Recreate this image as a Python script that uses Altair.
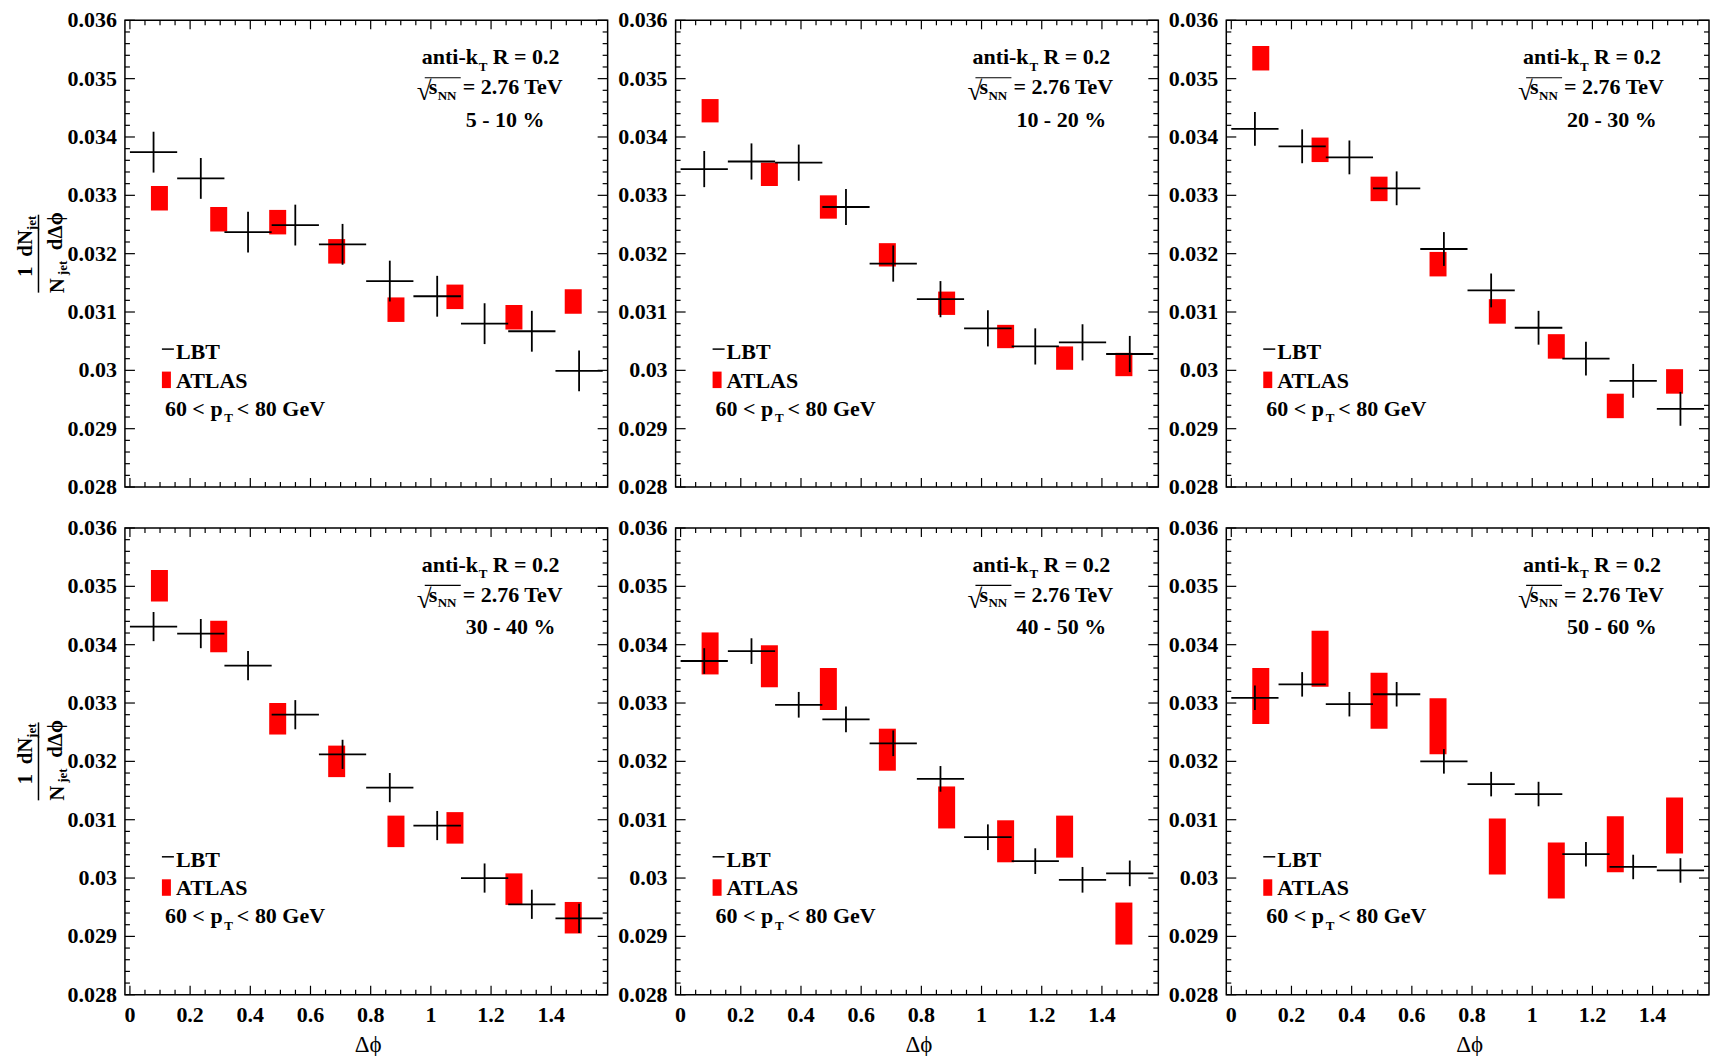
import altair as alt
import pandas as pd

# ---------------- data ----------------
centralities = ["5 - 10 %", "10 - 20 %", "20 - 30 %", "30 - 40 %", "40 - 50 %", "50 - 60 %"]

lbt_edges = [0.0, 0.157, 0.314, 0.471, 0.628, 0.785, 0.942, 1.100, 1.257, 1.414, 1.571]
lbt_vals = [
    [0.03374, 0.03329, 0.03237, 0.03249, 0.03216, 0.03153, 0.03127, 0.03080, 0.03067, 0.02999],
    [0.03345, 0.03358, 0.03356, 0.03280, 0.03183, 0.03122, 0.03072, 0.03041, 0.03048, 0.03028],
    [0.03414, 0.03384, 0.03365, 0.03312, 0.03208, 0.03137, 0.03073, 0.03020, 0.02982, 0.02934],
    [0.03431, 0.03419, 0.03364, 0.03280, 0.03212, 0.03155, 0.03090, 0.03000, 0.02955, 0.02931],
    [0.03372, 0.03389, 0.03297, 0.03272, 0.03231, 0.03170, 0.03070, 0.03029, 0.02997, 0.03008],
    [0.03309, 0.03332, 0.03298, 0.03315, 0.03200, 0.03161, 0.03144, 0.03041, 0.03019, 0.03013],
]
lbt_err = [0.00035, 0.00031, 0.00029, 0.00025, 0.00022, 0.00021]

atlas_x = [0.098, 0.295, 0.491, 0.687, 0.884, 1.080, 1.276, 1.473]
atlas_vals = [
    [0.03295, 0.03259, 0.03254, 0.03204, 0.03104, 0.03126, 0.03091, 0.03118],
    [0.03445, 0.03336, 0.03280, 0.03198, 0.03115, 0.03058, 0.03021, 0.03010],
    [0.03535, 0.03378, 0.03311, 0.03182, 0.03101, 0.03041, 0.02939, 0.02981],
    [0.03501, 0.03414, 0.03273, 0.03200, 0.03080, 0.03086, 0.02981, 0.02932],
    [0.03385, 0.03363, 0.03324, 0.03220, 0.03121, 0.03063, 0.03071, 0.02922],
    [0.03312, 0.03376, 0.03304, 0.03260, 0.03054, 0.03013, 0.03058, 0.03090],
]
atlas_err = [0.00021, 0.00020, 0.00021, 0.00027, 0.00036, 0.00048]

x_major = [0.0, 0.2, 0.4, 0.6, 0.8, 1.0, 1.2, 1.4]
x_labels = ["0", "0.2", "0.4", "0.6", "0.8", "1", "1.2", "1.4"]
x_minor = [0.05, 0.1, 0.15, 0.25, 0.3, 0.35, 0.45, 0.5, 0.55, 0.65, 0.7, 0.75,
           0.85, 0.9, 0.95, 1.05, 1.1, 1.15, 1.25, 1.3, 1.35, 1.45, 1.5, 1.55]
y_major = [0.028, 0.029, 0.030, 0.031, 0.032, 0.033, 0.034, 0.035, 0.036]
y_labels = ["0.028", "0.029", "0.03", "0.031", "0.032", "0.033", "0.034", "0.035", "0.036"]
y_minor = [round(0.028 + 0.0002 * i, 4) for i in range(41) if i % 5 != 0]

# ---------------- style / layout ----------------
SERIF = "Liberation Serif"
W, H = 483, 467
FS = 22        # annotation font size
FSUB = 13      # subscript size
TICK_FS = 22
XDOM = [0.0, 1.5708]
YDOM = [0.028, 0.036]
RED = "#ff0000"


def txt(text, x, y, size=FS, weight="bold", align="left", angle=0):
    return alt.Chart(pd.DataFrame({"t": [text]})).mark_text(
        font=SERIF, fontSize=size, fontWeight=weight, align=align,
        baseline="alphabetic", angle=angle, color="black"
    ).encode(x=alt.value(x), y=alt.value(y), text="t:N")


def hrule(x1, x2, y, sw=1.5, color="black"):
    return alt.Chart(pd.DataFrame({"a": [0]})).mark_rule(color=color, strokeWidth=sw).encode(
        x=alt.value(x1), x2=alt.value(x2), y=alt.value(y))


def vrule(x, y1, y2, sw=1.5):
    return alt.Chart(pd.DataFrame({"a": [0]})).mark_rule(color="black", strokeWidth=sw).encode(
        x=alt.value(x), y=alt.value(y1), y2=alt.value(y2))


def panel(i):
    xs = alt.Scale(domain=XDOM, nice=False, zero=False)
    ys = alt.Scale(domain=YDOM, nice=False, zero=False)
    bottom = i >= 3
    left = (i % 3) == 0

    lbt = pd.DataFrame({
        "lo": lbt_edges[:-1],
        "hi": lbt_edges[1:],
        "val": lbt_vals[i],
    })
    lbt["mid"] = (lbt["lo"] + lbt["hi"]) / 2
    lbt["elo"] = lbt["val"] - lbt_err[i]
    lbt["ehi"] = lbt["val"] + lbt_err[i]

    atl = pd.DataFrame({"x": atlas_x, "val": atlas_vals[i]})
    atl["lo"] = atl["val"] - atlas_err[i]
    atl["hi"] = atl["val"] + atlas_err[i]

    ymaj = pd.DataFrame({"v": y_major, "lab": y_labels})
    ymin = pd.DataFrame({"v": y_minor})
    xmaj = pd.DataFrame({"v": x_major, "lab": x_labels})
    xmin = pd.DataFrame({"v": x_minor})

    def ytick(df, x1, x2):
        return alt.Chart(df).mark_rule(color="black", strokeWidth=1.2).encode(
            y=alt.Y("v:Q", scale=ys, axis=None), x=alt.value(x1), x2=alt.value(x2))

    def xtick(df, y1, y2):
        return alt.Chart(df).mark_rule(color="black", strokeWidth=1.2).encode(
            x=alt.X("v:Q", scale=xs, axis=None), y=alt.value(y1), y2=alt.value(y2))

    layers = [
        ytick(ymaj, 0, 10), ytick(ymaj, W, W - 10),
        ytick(ymin, 0, 5), ytick(ymin, W, W - 5),
        xtick(xmaj, H, H - 9), xtick(xmaj, 0, 9),
        xtick(xmin, H, H - 5), xtick(xmin, 0, 5),
    ]
    # y tick labels
    layers.append(alt.Chart(ymaj).mark_text(
        font=SERIF, fontSize=TICK_FS, fontWeight="bold", align="right",
        baseline="middle", color="black").encode(
        y=alt.Y("v:Q", scale=ys, axis=None), x=alt.value(-8), text="lab:N"))
    if bottom:
        layers.append(alt.Chart(xmaj).mark_text(
            font=SERIF, fontSize=TICK_FS, fontWeight="bold", align="center",
            baseline="alphabetic", color="black").encode(
            x=alt.X("v:Q", scale=xs, axis=None), y=alt.value(H + 27), text="lab:N"))
        layers.append(txt("Δϕ", W / 2 + 2, H + 57, size=23, weight="normal", align="center"))

    # ATLAS boxes
    layers.append(alt.Chart(atl).mark_bar(size=17, color=RED).encode(
        x=alt.X("x:Q", scale=xs, axis=None),
        y=alt.Y("lo:Q", scale=ys, axis=None), y2="hi:Q"))
    # LBT horizontal bin lines
    layers.append(alt.Chart(lbt).mark_rule(color="black", strokeWidth=1.8).encode(
        x=alt.X("lo:Q", scale=xs, axis=None), x2="hi:Q",
        y=alt.Y("val:Q", scale=ys, axis=None)))
    # LBT vertical error bars
    layers.append(alt.Chart(lbt).mark_rule(color="black", strokeWidth=1.8).encode(
        x=alt.X("mid:Q", scale=xs, axis=None),
        y=alt.Y("elo:Q", scale=ys, axis=None), y2="ehi:Q"))

    # annotation block (top right)
    layers += [
        txt("anti-k", 297, 44),
        txt("T", 354, 50.5, size=FSUB),
        txt("R = 0.2", 368, 44),
        txt("√", 292, 80, size=27, weight="normal"),
        hrule(300, 336, 57.5, sw=1.2),
        txt("s", 304, 74),
        txt("NN", 313, 79.5, size=FSUB),
        txt("= 2.76 TeV", 338, 74),
        txt(centralities[i], 341, 106.5),
    ]
    # legend block (bottom left)
    layers += [
        hrule(37, 49, 329, sw=1.5),
        txt("LBT", 51, 339),
        alt.Chart(pd.DataFrame({"a": [0]})).mark_rect(color=RED).encode(
            x=alt.value(37), x2=alt.value(46), y=alt.value(351.5), y2=alt.value(368)),
        txt("ATLAS", 51, 367.5),
        txt("60 < p", 40, 395.5),
        txt("T", 99.5, 402, size=FSUB),
        txt("< 80 GeV", 112, 395.5),
    ]
    # y-axis title (fraction) on the left column only
    if left:
        layers += [
            vrule(-86.5, 194.5, 272.5, sw=1.5),
            txt("1", -93, 251.5, size=21, align="center", angle=270),
            txt("dN", -93, 236.5, size=21, angle=270),
            txt("jet", -88.5, 210, size=FSUB, angle=270),
            txt("N", -61, 273, size=21, angle=270),
            txt("jet", -57.5, 255, size=FSUB, angle=270),
            txt("dΔϕ", -62.5, 230, size=21, angle=270),
        ]

    return alt.layer(*layers).properties(width=W, height=H)


chart = alt.concat(
    *[panel(i) for i in range(6)],
    columns=3,
    spacing={"row": 41, "column": 68},
    bounds="flush",
).properties(
    padding={"left": 6, "top": 0, "right": 0, "bottom": 0}
).configure_view(stroke="black", strokeWidth=1.5)

chart.save("out.html", embed_options={"renderer": "svg", "actions": False})
